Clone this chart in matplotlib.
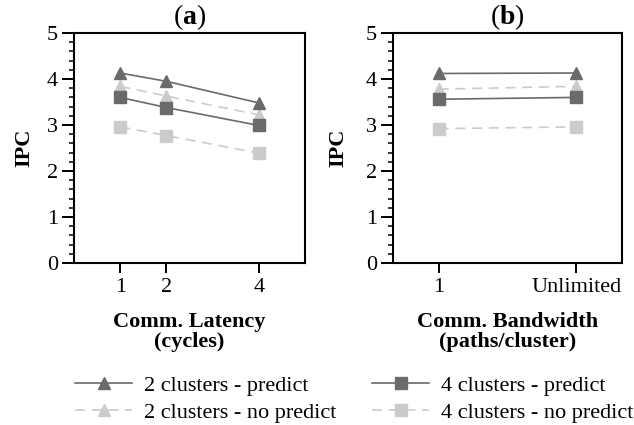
import matplotlib
matplotlib.use('Agg')
import matplotlib.pyplot as plt
from matplotlib.ticker import MultipleLocator
from matplotlib.lines import Line2D

plt.rcParams['font.family'] = ['Liberation Serif', 'DejaVu Serif']
plt.rcParams['mathtext.fontset'] = 'custom'
plt.rcParams['mathtext.rm'] = 'Liberation Serif'
plt.rcParams['mathtext.bf'] = 'Liberation Serif:bold'

# panel (a): communication latency
lat_x = [1, 2, 4]
lat_labels = ['1', '2', '4']
lat_2c_pred = [4.13, 3.95, 3.48]
lat_2c_nopred = [3.84, 3.63, 3.22]
lat_4c_pred = [3.60, 3.38, 2.99]
lat_4c_nopred = [2.96, 2.77, 2.39]

# panel (b): communication bandwidth
bw_x = [1, 4]
bw_labels = ['1', 'Unlimited']
bw_2c_pred = [4.12, 4.13]
bw_2c_nopred = [3.78, 3.84]
bw_4c_pred = [3.56, 3.60]
bw_4c_nopred = [2.92, 2.96]

dark = '#6a6a6a'
light = '#cbcbcb'
dash = (0, (6, 4))

fig = plt.figure(figsize=(6.34, 4.25), dpi=100)
ax1 = fig.add_axes([74/634, 1-263/425, 231/634, 230/425])
ax2 = fig.add_axes([393/634, 1-263/425, 229/634, 230/425])


def draw(ax, x, s1, s2, s3, s4, labels, title, xlabel, ylx):
    ax.plot(x, s1, color=dark, lw=1.2, marker='^', ms=8.5, zorder=4)
    ax.plot(x, s2, color=light, lw=1.2, ls=dash, marker='^', ms=8.5, zorder=3)
    ax.plot(x, s3, color=dark, lw=1.2, marker='s', ms=8.5, zorder=4)
    ax.plot(x, s4, color=light, lw=1.2, ls=dash, marker='s', ms=8.5, zorder=3)
    ax.set_xlim(0, 5)
    ax.set_ylim(0, 5)
    ax.set_xticks(x)
    ax.set_xticklabels(labels, fontsize=16)
    ax.yaxis.set_major_locator(MultipleLocator(1))
    ax.yaxis.set_minor_locator(MultipleLocator(0.2))
    ax.tick_params(axis='y', which='major', length=8.5, width=1.4, labelsize=16, pad=3)
    ax.tick_params(axis='y', which='minor', length=3.8, width=1.1)
    ax.tick_params(axis='x', length=7, width=1.4, pad=4)
    for sp in ax.spines.values():
        sp.set_linewidth(1.5)
    ax.set_ylabel('IPC', fontsize=16, fontweight='bold', va='center')
    ax.yaxis.set_label_coords(ylx, 0.5)
    ax.text(0.5, 1.07, title, transform=ax.transAxes, ha='center', va='center',
            fontsize=20)
    ax.set_xlabel(xlabel, fontsize=16, fontweight='bold', linespacing=1.0, va='top')
    ax.xaxis.set_label_coords(0.5, -0.213)


draw(ax1, lat_x, lat_2c_pred, lat_2c_nopred, lat_4c_pred, lat_4c_nopred,
     lat_labels, r'($\mathbf{a}$)', 'Comm. Latency\n(cycles)', -0.215)
draw(ax2, bw_x, bw_2c_pred, bw_2c_nopred, bw_4c_pred, bw_4c_nopred,
     bw_labels, r'($\mathbf{b}$)', 'Comm. Bandwidth\n(paths/cluster)', -0.24)

handles = [
    Line2D([], [], color=dark, lw=1.2, marker='^', ms=8),
    Line2D([], [], color=light, lw=1.2, ls=dash, marker='^', ms=8),
    Line2D([], [], color=dark, lw=1.2, marker='s', ms=8),
    Line2D([], [], color=light, lw=1.2, ls=dash, marker='s', ms=8),
]
names = ['2 clusters - predict', '2 clusters - no predict',
         '4 clusters - predict', '4 clusters - no predict']
fig.legend(handles, names, ncol=2, loc='upper left',
           bbox_to_anchor=(75/634, 1-375/425), borderpad=0, borderaxespad=0,
           frameon=False, fontsize=16, handlelength=2.57, handletextpad=0.54,
           columnspacing=1.6, labelspacing=0.32)

fig.savefig('out.png', dpi=100)
